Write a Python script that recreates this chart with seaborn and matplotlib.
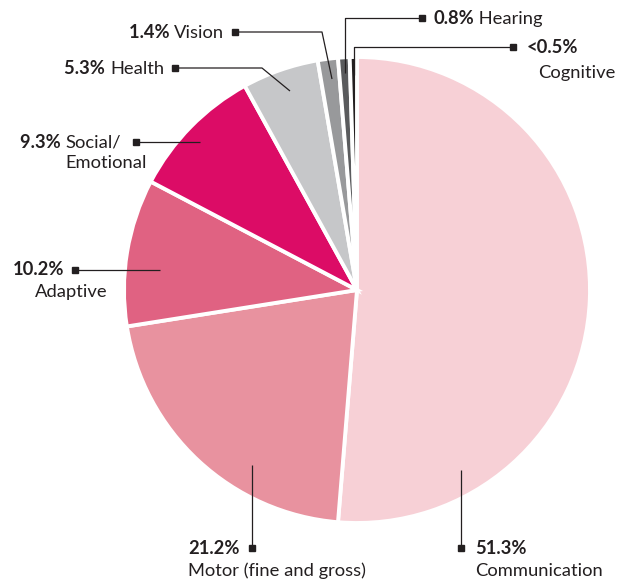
import matplotlib
matplotlib.use("Agg")
import matplotlib.pyplot as plt
import seaborn as sns

# Share of developmental concerns by domain (percent)
domains = ["Communication", "Motor (fine and gross)", "Adaptive", "Social/Emotional",
           "Health", "Vision", "Hearing", "Cognitive"]
shares = [51.3, 21.2, 10.2, 9.3, 5.3, 1.4, 0.8, 0.5]
value_labels = ["51.3%", "21.2%", "10.2%", "9.3%", "5.3%", "1.4%", "0.8%", "<0.5%"]
colors = ["#f7d0d6", "#e8929f", "#e06282", "#dc0c66",
          "#c6c7c9", "#98999b", "#5a5b5d", "#231f20"]

sns.set_theme(style="white")
plt.rcParams["font.family"] = ["Lato", "DejaVu Sans"]

W, H = 624, 581
fig = plt.figure(figsize=(W / 100, H / 100), dpi=100)
ax = fig.add_axes([0, 0, 1, 1])


def Y(py):
    return H - py


ink = "#231f20"
ax.pie(shares, colors=colors, startangle=90, counterclock=False,
       center=(357, Y(290)), radius=233, frame=True,
       wedgeprops=dict(edgecolor="white", linewidth=2.8))
ax.set_xlim(0, W)
ax.set_ylim(0, H)
ax.set_aspect("equal")
ax.axis("off")

FS = 13.2


def leader(points, square):
    xs = [p[0] for p in points]
    ys = [Y(p[1]) for p in points]
    ax.plot(xs, ys, color=ink, lw=0.9, solid_capstyle="butt", zorder=5)
    ax.plot([square[0]], [Y(square[1])], marker="s", ms=5, color=ink, zorder=6)


def label_right(bold, regular, x_end, y):
    # regular text ends at x_end, bold value placed to its left
    t = ax.text(x_end, Y(y), regular, ha="right", va="baseline", fontsize=FS, color=ink)
    ax.annotate(bold + " ", xy=(0, 0), xycoords=t, ha="right", va="bottom",
                fontsize=FS, fontweight="bold", color=ink)
    return t


def label_left(bold, regular, x, y):
    t = ax.text(x, Y(y), bold, ha="left", va="baseline", fontsize=FS,
                fontweight="bold", color=ink)
    if regular:
        ax.annotate(" " + regular, xy=(1, 0), xycoords=t, ha="left", va="bottom",
                    fontsize=FS, color=ink)
    return t


# Hearing
leader([(422, 18), (345, 18), (345, 73)], (422, 18))
label_left(value_labels[6], domains[6], 433, 24)
# Cognitive
leader([(513, 47), (354, 47), (354, 75)], (513, 47))
label_left(value_labels[7], "", 527, 53)
ax.text(538, Y(78), "Cognitive", ha="left", va="baseline", fontsize=FS, color=ink)
# Vision
leader([(235, 32), (322, 32), (332, 79)], (235, 32))
label_right(value_labels[5], domains[5], 224, 38)
# Health
leader([(175, 68), (262, 68), (290, 91)], (175, 68))
label_right(value_labels[4], domains[4], 164, 74)
# Social/Emotional
leader([(136, 142), (200, 142)], (136, 142))
t = ax.text(65, Y(148), "Social/", ha="left", va="baseline", fontsize=FS, color=ink)
ax.annotate(value_labels[3] + " ", xy=(0, 0), xycoords=t, ha="right", va="bottom",
            fontsize=FS, fontweight="bold", color=ink)
ax.text(65, Y(168), "Emotional", ha="left", va="baseline", fontsize=FS, color=ink)
# Adaptive
leader([(75, 270), (160, 270)], (75, 270))
ax.text(13, Y(275), value_labels[2], ha="left", va="baseline", fontsize=FS,
        fontweight="bold", color=ink)
ax.text(35, Y(297), domains[2], ha="left", va="baseline", fontsize=FS, color=ink)
# Motor
leader([(252, 548), (252, 465)], (252, 548))
ax.text(188, Y(554), value_labels[1], ha="left", va="baseline", fontsize=FS,
        fontweight="bold", color=ink)
ax.text(188, Y(576), domains[1], ha="left", va="baseline", fontsize=FS, color=ink)
# Communication
leader([(461, 548), (461, 470)], (461, 548))
ax.text(475, Y(554), value_labels[0], ha="left", va="baseline", fontsize=FS,
        fontweight="bold", color=ink)
ax.text(475, Y(576), domains[0], ha="left", va="baseline", fontsize=FS, color=ink)

fig.savefig("out.png", dpi=100, facecolor="white")
